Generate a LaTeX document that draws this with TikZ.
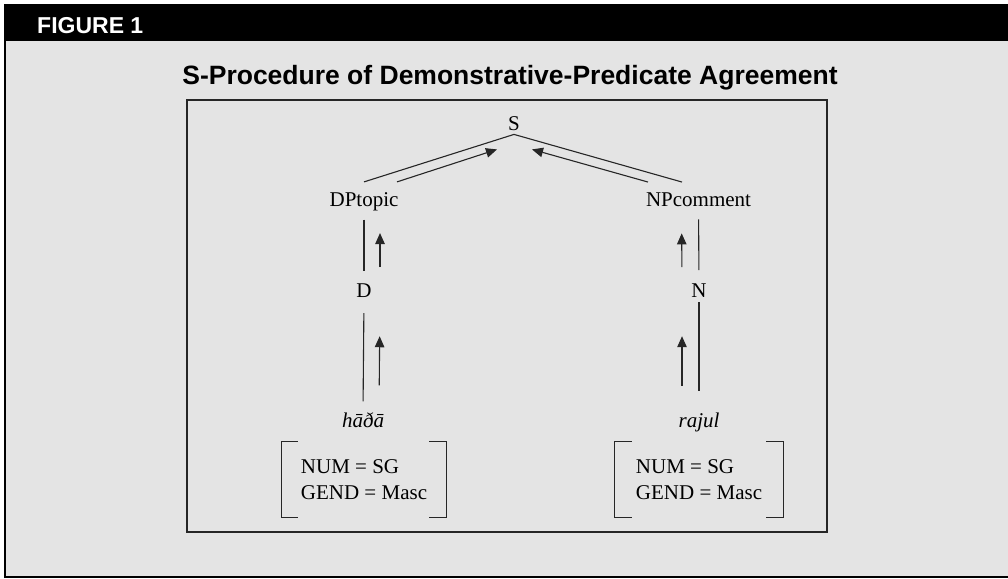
\documentclass[tikz,border=0pt]{standalone}
\usepackage{fontspec}
\setmainfont{Liberation Serif}
\newfontfamily\headfont{Liberation Sans}
\usetikzlibrary{arrows.meta}
\definecolor{panelgray}{HTML}{E4E4E4}
\definecolor{inkgray}{HTML}{262626}
\tikzset{
  lbl/.style={inner sep=0pt,anchor=base,font=\fontsize{21}{26}\selectfont},
  edge/.style={draw=inkgray,line width=1.1pt},
  uparr/.style={draw=inkgray,line width=1.1pt,-{Triangle[length=11pt,width=9.5pt]}},
  feat/.style={inner sep=0pt,align=left,minimum height=75pt,font=\fontsize{21}{26}\selectfont},
}
\begin{document}
\begin{tikzpicture}[x=1pt,y=-1pt]
\useasboundingbox (0,0) rectangle (1008,578);
\fill[white] (0,0) rectangle (1008,578);
\fill[panelgray] (5,41) rectangle (1008,577);
\fill[black] (4,4) rectangle (1008,41);
\draw[line width=2pt] (5,41) -- (5,577) -- (1008,577);
\node[anchor=base west,inner sep=0pt,text=white,font=\headfont\bfseries\fontsize{23}{28}\selectfont] (fig) at (37,33.5) {FIGURE 1};
\node[anchor=base,inner sep=0pt,font=\headfont\bfseries\fontsize{26.5}{31}\selectfont] (title) at (510,84) {S-Procedure of Demonstrative-Predicate Agreement};
\draw[draw=inkgray,line width=1.2pt] (187,100) rectangle (827,532);

% tree labels
\node[lbl] (S) at (514,130) {S};
\node[lbl] (DP) at (364,206) {DPtopic};
\node[lbl] (NP) at (698.5,206) {NPcomment};
\node[lbl] (D) at (364,297) {D};
\node[lbl] (N) at (699,297) {N};
\node[lbl] (hd) at (363,427) {\textit{hāðā}};
\node[lbl] (rj) at (699,427) {\textit{rajul}};
\node[feat,minimum width=164pt] (fl) at (364,479.5) {NUM = SG\\GEND = Masc};
\node[feat,minimum width=168pt] (fr) at (699,479.5) {NUM = SG\\GEND = Masc};

% branches
\draw[edge] ([yshift=-4pt]S.south) -- ([yshift=10pt]DP.north);
\draw[edge] ([yshift=-4pt]S.south) -- ([xshift=-16.5pt,yshift=10pt]NP.north);
\draw[uparr] ([xshift=33pt,yshift=10pt]DP.north) -- ([xshift=-17pt,yshift=-19pt]S.south);
\draw[uparr] ([xshift=-50.5pt,yshift=10pt]NP.north) -- ([xshift=18pt,yshift=-19pt]S.south);

\draw[edge,shorten <=9pt,shorten >=12pt] (DP.south) -- (D.north);
\draw[edge,shorten <=16pt,shorten >=10.7pt] (D.south) -- (hd.north);
\draw[edge,shorten <=13pt,shorten >=13pt] (NP.south) -- (N.north);
\draw[edge,shorten <=5pt,shorten >=21.7pt] (N.south) -- (rj.north);

\draw[uparr,shorten <=16pt,shorten >=22.4pt] ([xshift=16pt]D.north) -- ([xshift=16pt]DP.south);
\draw[uparr,shorten <=26.7pt,shorten >=39pt] ([xshift=16pt]hd.north) -- ([xshift=16pt]D.south);
\draw[uparr,shorten <=16pt,shorten >=27pt] ([xshift=-17pt]N.north) -- ([xshift=-17pt]NP.south);
\draw[uparr,shorten <=26.7pt,shorten >=39pt] ([xshift=-17pt]rj.north) -- ([xshift=-17pt]N.south);

% feature brackets
\draw[edge] ([xshift=16pt]fl.north west) -- (fl.north west) -- (fl.south west) -- ([xshift=16pt]fl.south west);
\draw[edge] ([xshift=-17pt]fl.north east) -- (fl.north east) -- (fl.south east) -- ([xshift=-17pt]fl.south east);
\draw[edge] ([xshift=17pt]fr.north west) -- (fr.north west) -- (fr.south west) -- ([xshift=17pt]fr.south west);
\draw[edge] ([xshift=-17pt]fr.north east) -- (fr.north east) -- (fr.south east) -- ([xshift=-17pt]fr.south east);
\end{tikzpicture}
\end{document}
